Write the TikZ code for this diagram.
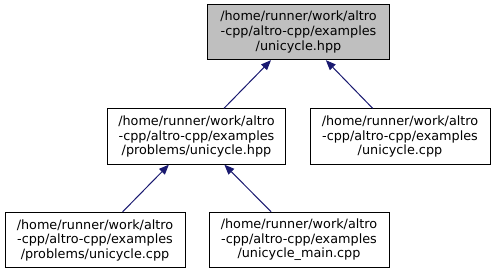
\documentclass[tikz,border=0pt]{standalone}
\usepackage{fontspec}
\setmainfont{DejaVu Sans}
\usetikzlibrary{arrows.meta}
\definecolor{edgeblue}{HTML}{191970}
\definecolor{focusgray}{HTML}{BFBFBF}
\tikzset{
  file/.style={draw=black, line width=0.75pt, rectangle, align=center,
    minimum height=41.5pt, inner sep=0pt, font=\fontsize{9.6pt}{10.9pt}\selectfont, fill=white},
  focus/.style={file, fill=focusgray},
  dep/.style={draw=edgeblue, line width=0.75pt, -{Triangle[length=7.5pt, width=6pt]}}
}
\begin{document}
\begin{tikzpicture}[x=0.75pt, y=-0.75pt]
\useasboundingbox (0,0) rectangle (496,275);
\node[focus, minimum width=137pt] (hpp) at (298.5,32) {/home/runner/work/altro\\-cpp/altro-cpp/examples\\/unicycle.hpp};
\node[file, minimum width=134pt] (phpp) at (196.5,136.5) {/home/runner/work/altro\\-cpp/altro-cpp/examples\\/problems/unicycle.hpp};
\node[file, minimum width=135pt] (cpp) at (400,136.5) {/home/runner/work/altro\\-cpp/altro-cpp/examples\\/unicycle.cpp};
\node[file, minimum width=135pt] (pcpp) at (95,240) {/home/runner/work/altro\\-cpp/altro-cpp/examples\\/problems/unicycle.cpp};
\node[file, minimum width=135pt] (main) at (299,240) {/home/runner/work/altro\\-cpp/altro-cpp/examples\\/unicycle\_main.cpp};
\draw[dep] (phpp) -- (hpp);
\draw[dep] (cpp) -- (hpp);
\draw[dep] (pcpp) -- (phpp);
\draw[dep] (main) -- (phpp);
\end{tikzpicture}
\end{document}
